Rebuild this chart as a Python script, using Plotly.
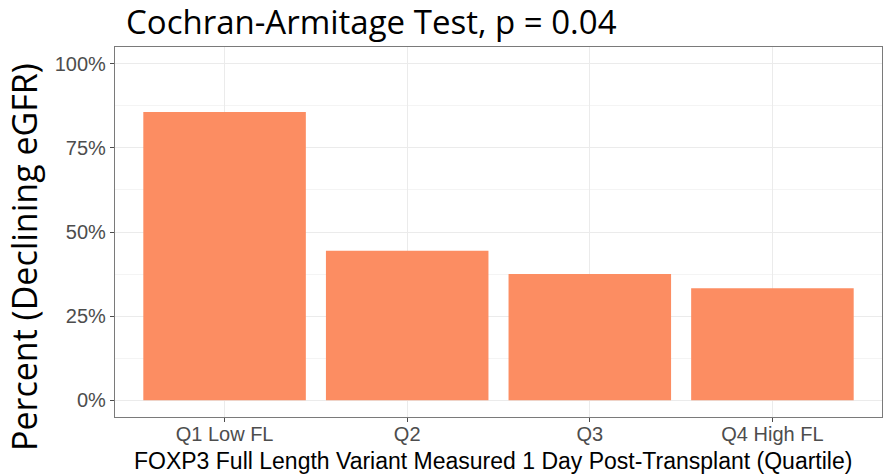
import plotly.graph_objects as go

categories = ["Q1 Low FL", "Q2", "Q3", "Q4 High FL"]
percent_declining = [85.7, 44.4, 37.5, 33.3]
y_tick_values = [0, 25, 50, 75, 100]
y_tick_labels = ["0%", "25%", "50%", "75%", "100%"]

title_text = "Cochran-Armitage Test, p = 0.04"
x_title = "FOXP3 Full Length Variant Measured 1 Day Post-Transplant (Quartile)"
y_title = "Percent (Declining eGFR)"

W, H = 886, 476
PL, PR, PT, PB = 115, 882, 47, 417  # panel edges in page pixels
L, R, T, B = PL, W - PR, PT, H - PB
pw = PR - PL
ph = PB - PT


def px(x):
    return (x - PL) / pw


def py(y):
    return (PB - y) / ph


fig = go.Figure()
fig.add_trace(go.Bar(
    x=categories, y=percent_declining,
    marker=dict(color="#FC8D62", line=dict(width=0)),
    width=0.89,
))

fig.update_layout(
    width=W, height=H,
    margin=dict(l=L, r=R, t=T, b=B),
    paper_bgcolor="white", plot_bgcolor="white",
    showlegend=False,
    font=dict(family="Liberation Sans, Arial, sans-serif"),
)
fig.update_xaxes(
    range=[-0.6, 3.6],
    showgrid=True, gridcolor="#ebebeb", gridwidth=1,
    showline=True, linecolor="#7a7a7a", linewidth=1.3, mirror=True,
    ticks="outside", ticklen=4, tickcolor="#4d4d4d",
    ticklabelstandoff=-5,
    tickfont=dict(size=20, color="#4d4d4d", family="Liberation Sans, Arial"),
    zeroline=False,
)
fig.update_yaxes(
    range=[-5, 105],
    tickvals=y_tick_values, ticktext=y_tick_labels,
    showgrid=True, gridcolor="#ebebeb", gridwidth=1,
    minor=dict(tickvals=[12.5, 37.5, 62.5, 87.5], showgrid=True, gridcolor="#f4f4f4", gridwidth=1),
    showline=True, linecolor="#7a7a7a", linewidth=1.3, mirror=True,
    ticks="outside", ticklen=4, tickcolor="#4d4d4d",
    tickfont=dict(size=20, color="#4d4d4d", family="Liberation Sans, Arial"),
    zeroline=False,
)

fig.add_annotation(
    text=title_text, xref="paper", yref="paper",
    x=px(124), y=py(21),
    xanchor="left", yanchor="middle", showarrow=False,
    font=dict(size=33, color="black", family="Open Sans, Noto Sans"),
)
fig.add_annotation(
    text=y_title, xref="paper", yref="paper",
    x=px(24), y=py(257), textangle=-90,
    xanchor="center", yanchor="middle", showarrow=False,
    font=dict(size=34, color="black", family="Open Sans, Noto Sans"),
)
fig.add_annotation(
    text=x_title, xref="paper", yref="paper",
    x=px(493), y=py(461),
    xanchor="center", yanchor="middle", showarrow=False,
    font=dict(size=23, color="black", family="Liberation Sans, Arial"),
)

fig.write_html(
    "out.html",
    config={"displayModeBar": False},
    post_script="document.body.style.margin='0';document.body.style.padding='0';",
)
